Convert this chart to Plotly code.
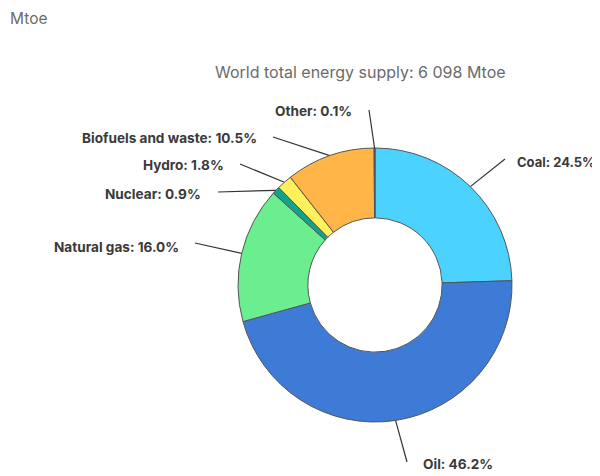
import math
import plotly.graph_objects as go

# ---- data ----
categories = ["Coal", "Oil", "Natural gas", "Nuclear", "Hydro", "Biofuels and waste", "Other"]
shares = [24.5, 46.2, 16.0, 0.9, 1.8, 10.5, 0.1]
colors = ["#4BD2FF", "#3E7BD6", "#6BEE90", "#12A28E", "#FFF05C", "#FFB547", "#2A2A2A"]
title_text = "World total energy supply: 6 098 Mtoe"
unit_text = "Mtoe"

# ---- layout (pixels, page coordinates; page body has an 8px margin) ----
OFF = 8
W, H = 600 - OFF, 476 - OFF
CX, CY, R = 375, 285, 137
HOLE = 0.49
line_ends = {
    "Coal": (505, 159),
    "Oil": (407, 462),
    "Natural gas": (195, 243),
    "Nuclear": (218, 192),
    "Hydro": (240, 164),
    "Biofuels and waste": (273, 137),
    "Other": (369, 110),
}
text_pos = {
    "Coal": (597, 162, "right"),
    "Oil": (421, 464, "left"),
    "Natural gas": (181, 247, "right"),
    "Nuclear": (203, 194, "right"),
    "Hydro": (226, 165, "right"),
    "Biofuels and waste": (259, 138, "right"),
    "Other": (354, 111, "right"),
}

def px(x):
    return (x - OFF) / W

def py(y):
    return 1 - (y - OFF) / H

fig = go.Figure()
fig.add_trace(go.Pie(
    labels=categories, values=shares, sort=False, direction="clockwise", rotation=0,
    hole=HOLE, textinfo="none", hoverinfo="label+percent",
    marker=dict(colors=colors, line=dict(color="#555555", width=1)),
    domain=dict(x=[px(CX - R), px(CX + R)], y=[py(CY + R), py(CY - R)]),
    showlegend=False,
))

total = sum(shares)
xs, ys = [], []
cum = 0.0
annotations = []
for cat, v in zip(categories, shares):
    mid = (cum + v / 2) / total * 2 * math.pi
    cum += v
    ex = CX + R * math.sin(mid)
    ey = CY - R * math.cos(mid)
    lx, ly = line_ends[cat]
    xs += [lx, ex, None]
    ys += [ly, ey, None]
    tx, ty, al = text_pos[cat]
    annotations.append(dict(
        x=tx, y=ty, xref="x", yref="y", showarrow=False,
        text=f"<b>{cat}: {v:.1f}%</b>", xanchor=al, yanchor="middle",
        font=dict(family="Inter, Lato, sans-serif", size=13.6 if cat != "Coal" else 13, color="#3a3a3a"),
    ))

fig.add_trace(go.Scatter(x=xs, y=ys, mode="lines", line=dict(color="#333333", width=1.2),
                         hoverinfo="skip", showlegend=False))

annotations.append(dict(x=8, y=18, xref="x", yref="y", showarrow=False, text=unit_text,
                        xanchor="left", yanchor="middle",
                        font=dict(family="Inter, Lato, sans-serif", size=15.5, color="#6b6b6b")))
annotations.append(dict(x=360, y=72, xref="x", yref="y", showarrow=False, text=title_text,
                        xanchor="center", yanchor="middle",
                        font=dict(family="Inter, Lato, sans-serif", size=16, color="#6b6b6b")))

fig.update_layout(
    width=W, height=H, margin=dict(l=0, r=0, t=0, b=0),
    paper_bgcolor="white", plot_bgcolor="rgba(0,0,0,0)",
    xaxis=dict(range=[OFF, 600], visible=False, domain=[0, 1], fixedrange=True),
    yaxis=dict(range=[476, OFF], visible=False, domain=[0, 1], fixedrange=True),
    annotations=annotations,
)
fig.write_html("out.html")
